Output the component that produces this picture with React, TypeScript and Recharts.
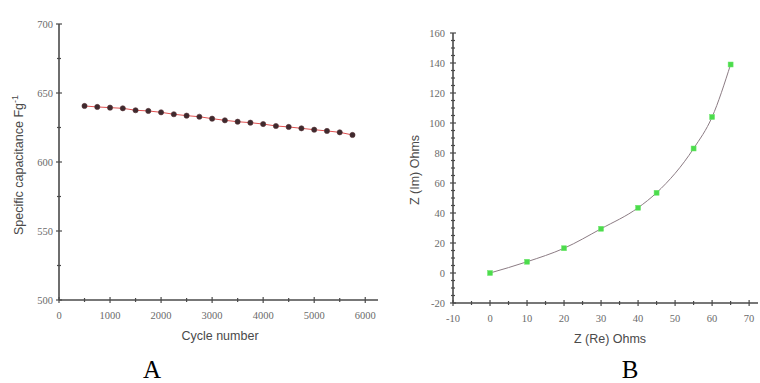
import React from 'react';
import { LineChart, Line, XAxis, YAxis, Label } from 'recharts';

// ---- Chart A data ----
const cyclesA = [500, 750, 1000, 1250, 1500, 1750, 2000, 2250, 2500, 2750, 3000, 3250, 3500, 3750, 4000, 4250, 4500, 4750, 5000, 5250, 5500, 5750];
const capacitanceA = [640.6, 639.9, 639.4, 638.9, 637.5, 637.0, 636.0, 634.6, 633.6, 632.8, 631.4, 630.2, 629.2, 628.5, 627.5, 626.1, 625.4, 624.4, 623.4, 622.5, 621.5, 619.6];
const xTicksA = [0, 500, 1000, 1500, 2000, 2500, 3000, 3500, 4000, 4500, 5000, 5500, 6000];
const xMajorA = [0, 1000, 2000, 3000, 4000, 5000, 6000];
const yTicksA = [500, 525, 550, 575, 600, 625, 650, 675, 700];
const yMajorA = [500, 550, 600, 650, 700];

// ---- Chart B data ----
const zReB = [0, 10, 20, 30, 40, 45, 55, 60, 65];
const zImB = [0, 7.5, 16.5, 29.5, 43.5, 53.5, 83, 104, 139];
const xTicksB = [-10, -5, 0, 5, 10, 15, 20, 25, 30, 35, 40, 45, 50, 55, 60, 65, 70];
const xMajorB = [-10, 0, 10, 20, 30, 40, 50, 60, 70];
const yTicksB = [-20, -15, -10, -5, 0, 5, 10, 15, 20, 25, 30, 35, 40, 45, 50, 55, 60, 65, 70, 75, 80, 85, 90, 95, 100, 105, 110, 115, 120, 125, 130, 135, 140, 145, 150, 155, 160];
const yMajorB = [-20, 0, 20, 40, 60, 80, 100, 120, 140, 160];

const dataA = cyclesA.map((c, i) => ({ cycle: c, cap: capacitanceA[i] }));
const dataB = zReB.map((x, i) => ({ re: x, im: zImB[i] }));

const AXIS = '#4a4a4a';
const TICKTXT = '#6a6a6a';
const TITLE = '#4a4a4a';

const makeYTick = (majors: number[], gap: number) => (props: any) => {
  const { x, y, payload } = props;
  const major = majors.includes(payload.value);
  const len = major ? 3 : 2;
  return (
    <g>
      <line x1={x - len} x2={x + len} y1={y} y2={y} stroke={AXIS} strokeWidth={1.2} />
      {major && (
        <text x={x - gap} y={y} dy={3.5} textAnchor="end" fontFamily="'Liberation Serif', serif" fontSize={10.5} fill={TICKTXT}>
          {payload.value}
        </text>
      )}
    </g>
  );
};

const makeXTick = (majors: number[]) => (props: any) => {
  const { x, y, payload } = props;
  const major = majors.includes(payload.value);
  const len = major ? 3 : 2;
  return (
    <g>
      <line x1={x} x2={x} y1={y - len} y2={y + len} stroke={AXIS} strokeWidth={1.2} />
      {major && (
        <text x={x} y={y + 19} textAnchor="middle" fontFamily="'Liberation Serif', serif" fontSize={10.5} fill={TICKTXT}>
          {payload.value}
        </text>
      )}
    </g>
  );
};

const SquareDot = (props: any) => {
  const { cx, cy, index } = props;
  if (cx == null || cy == null) return null;
  return <rect key={index} x={cx - 2.5} y={cy - 2.5} width={5} height={5} fill="#4cdc4c" stroke="#6ee86e" strokeWidth={0.5} />;
};

export default function App() {
  return (
    <div style={{ position: 'absolute', left: 0, top: 0, width: 760, height: 383, background: '#fff', fontFamily: "'Liberation Sans', Arial, sans-serif" }}>
      <div style={{ position: 'absolute', left: 0, top: 0 }}>
        <LineChart width={380} height={360} data={dataA} margin={{ top: 24, right: 2, left: 0, bottom: 20 }}>
          <XAxis
            type="number"
            dataKey="cycle"
            domain={[0, 6250]}
            ticks={xTicksA}
            interval={0}
            height={40}
            tickSize={0}
            tickMargin={0}
            tickLine={false}
            axisLine={{ stroke: AXIS, strokeWidth: 1.6 }}
            tick={makeXTick(xMajorA)}
            allowDataOverflow
          >
            <Label
              content={() => (
                <text x={220} y={340} textAnchor="middle" fill={TITLE} fontSize={12.5}>
                  Cycle number
                </text>
              )}
            />
          </XAxis>
          <YAxis
            type="number"
            domain={[500, 700]}
            ticks={yTicksA}
            interval={0}
            width={59}
            tickSize={0}
            tickMargin={0}
            tickLine={false}
            axisLine={{ stroke: AXIS, strokeWidth: 1.6 }}
            tick={makeYTick(yMajorA, 6)}
            allowDataOverflow
          >
            <Label
              content={() => (
                <text x={23} y={165} transform="rotate(-90 23 165)" textAnchor="middle" fill={TITLE} fontSize={12.5}>
                  Specific capacitance Fg
                  <tspan dy={-5} fontSize={9}>-1</tspan>
                </text>
              )}
            />
          </YAxis>
          <Line
            type="linear"
            dataKey="cap"
            stroke="#e05050"
            strokeWidth={1}
            dot={{ r: 2.6, fill: '#3e2a2e', stroke: '#5a3338', strokeWidth: 0.6 }}
            isAnimationActive={false}
          />
        </LineChart>
      </div>
      <div style={{ position: 'absolute', left: 380, top: 0 }}>
        <LineChart width={380} height={360} data={dataB} margin={{ top: 33, right: 2, left: 0, bottom: 20 }}>
          <XAxis
            type="number"
            dataKey="re"
            domain={[-10, 72.4]}
            ticks={xTicksB}
            interval={0}
            height={37}
            tickSize={0}
            tickMargin={0}
            tickLine={false}
            axisLine={{ stroke: AXIS, strokeWidth: 1.6 }}
            tick={makeXTick(xMajorB)}
            allowDataOverflow
          >
            <Label
              content={() => (
                <text x={230} y={343} textAnchor="middle" fill={TITLE} fontSize={12.5}>
                  Z (Re) Ohms
                </text>
              )}
            />
          </XAxis>
          <YAxis
            type="number"
            domain={[-20, 160]}
            ticks={yTicksB}
            interval={0}
            width={73}
            tickSize={0}
            tickMargin={0}
            tickLine={false}
            axisLine={{ stroke: AXIS, strokeWidth: 1.6 }}
            tick={makeYTick(yMajorB, 8)}
            allowDataOverflow
          >
            <Label
              content={() => (
                <text x={39} y={170} transform="rotate(-90 39 170)" textAnchor="middle" fill={TITLE} fontSize={12.5}>
                  Z (Im) Ohms
                </text>
              )}
            />
          </YAxis>
          <Line
            type="monotone"
            dataKey="im"
            stroke="#8c7c84"
            strokeWidth={1}
            dot={SquareDot}
            isAnimationActive={false}
          />
        </LineChart>
      </div>
      <svg width={760} height={383} style={{ position: 'absolute', left: 0, top: 0, pointerEvents: 'none' }}>
        <text x={152} y={378} textAnchor="middle" fontFamily="'Liberation Serif', 'Times New Roman', serif" fontSize={25} fill="#000">A</text>
        <text x={630} y={378} textAnchor="middle" fontFamily="'Liberation Serif', 'Times New Roman', serif" fontSize={25} fill="#000">B</text>
      </svg>
    </div>
  );
}
